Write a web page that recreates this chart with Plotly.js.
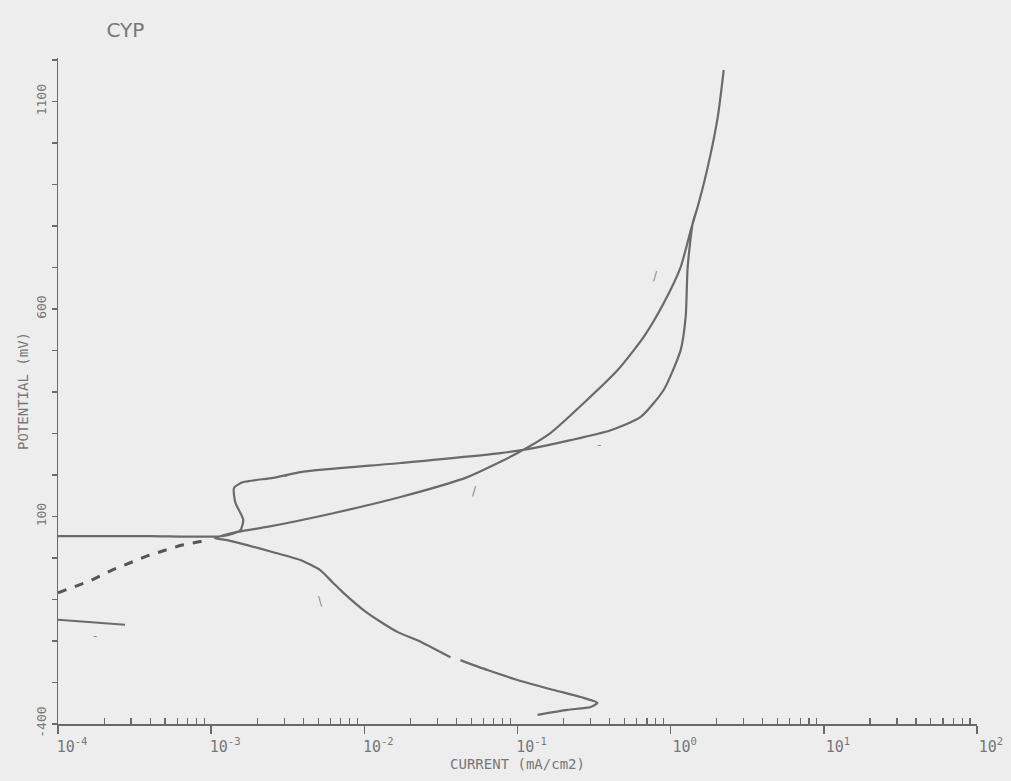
<!DOCTYPE html>
<html><head><meta charset="utf-8">
<script src="https://cdn.plot.ly/plotly-3.0.1.min.js"></script>
<style>html,body{margin:0;padding:0;background:#ededed;}</style>
</head><body><div id="chart" style="width:1011px;height:781px;"></div>
<script>
// Main scan: cathodic hook -> corrosion potential -> anodic up -> reverse scan back down
const mainCurrent = [0.135, 0.212, 0.300, 0.333, 0.258, 0.172, 0.100, 0.0637, 0.0424, null, 0.0365, 0.0222, 0.0164, 0.0105, 0.00730, 0.00626, 0.00515, 0.00382, 0.00254, 0.00172, 0.00127, 0.00106,
  0.00148, 0.00232, 0.00626, 0.0172, 0.0471, 0.100, 0.164, 0.270, 0.451, 0.667, 0.900, 1.162, 1.352, 1.50, 1.746, 2.03, 2.22,
  2.03, 1.746, 1.50, 1.393, 1.291, 1.253, 1.162, 0.900, 0.637, 0.406, 0.222, 0.127, 0.0775, 0.0172, 0.00382, 0.00254, 0.00162, 0.00141, 0.00144, 0.00162, 0.00155, 0.00120, 0.000399, 0.0001];
const mainPotential = [-378, -366, -359, -349, -335, -318, -294, -270, -246, null, -239, -198, -178, -133, -84, -60, -29, -5, 14, 31, 43, 48,
  63, 75, 108, 147, 195, 253, 301, 373, 453, 533, 614, 701, 790, 846, 942, 1063, 1176,
  1063, 942, 846, 807, 701, 581, 501, 405, 340, 308, 284, 265, 253, 229, 207, 193, 183, 169, 133, 92, 67, 53, 53, 53];
// dashed low-current branch
const dashCurrent = [0.0001, 0.000162, 0.000229, 0.000382, 0.000626, 0.000942];
const dashPotential = [-84, -55, -28, 5, 30, 43];
// short starting segment
const startCurrent = [0.0001, 0.000274];
const startPotential = [-149, -161];
// small hand marks along the curves (log10 current, potential)
const markLogCurrent = [-0.046, -0.418, -1.229, -2.464, -2.235, -3.706];
const markPotential = [699, 292, 181, 217, -84, -169];
const markText = ["/", "-", "/", "-", "\\", "-"];
// axis ticks
const xTickVals = [1e-4, 1e-3, 1e-2, 1e-1, 1e0, 1e1, 1e2];
const xTickText = ["10<sup>-4</sup>", "10<sup>-3</sup>", "10<sup>-2</sup>", "10<sup>-1</sup>", "10<sup>0</sup>", "10<sup>1</sup>", "10<sup>2</sup>"];
const yTickVals = [-400, 100, 600, 1100];
const yTickText = ["-400", "100", "600", "1100"];

const ink = '#6a6a6a';
const minorX = [];
for (let e = -4; e < 2; e++) for (let d = 2; d <= 9; d++) minorX.push(d * Math.pow(10, e));

const traces = [
  {x: mainCurrent, y: mainPotential, mode: 'lines', line: {color: ink, width: 2.2, shape: 'spline', smoothing: 0.6}, connectgaps: false, hoverinfo: 'skip'},
  {x: dashCurrent, y: dashPotential, mode: 'lines', line: {color: '#555', width: 3, dash: 'dash'}, hoverinfo: 'skip'},
  {x: startCurrent, y: startPotential, mode: 'lines', line: {color: ink, width: 2}, hoverinfo: 'skip'}
];

const annotations = markLogCurrent.map((lx, i) => ({
  x: lx, y: markPotential[i], xref: 'x', yref: 'y', text: markText[i], showarrow: false,
  font: {family: 'DejaVu Sans', size: 12, color: '#888'}, xshift: -8, yshift: -8
}));

const layout = {
  width: 1011, height: 781,
  paper_bgcolor: '#ededed', plot_bgcolor: '#ededed',
  margin: {l: 58, r: 34, t: 58, b: 57},
  showlegend: false,
  title: {text: 'CYP', x: 0.124, xref: 'container', xanchor: 'center', y: 0.962, yref: 'container', yanchor: 'middle',
    font: {family: 'DejaVu Sans', size: 20, color: '#777'}},
  xaxis: {
    type: 'log', range: [-4, 2], showgrid: false, zeroline: false,
    showline: true, linecolor: ink, linewidth: 1.5,
    tickvals: xTickVals, ticktext: xTickText, ticks: 'outside', ticklen: 8, tickcolor: ink, tickwidth: 1.5,
    ticklabelshift: 14,
    tickfont: {family: 'DejaVu Sans Mono', size: 15, color: '#777'},
    minor: {tickvals: minorX, ticks: 'inside', ticklen: 6, tickcolor: ink, tickwidth: 1.2},
    title: {text: 'CURRENT (mA/cm2)', standoff: 4, font: {family: 'DejaVu Sans Mono', size: 14, color: '#777'}}
  },
  yaxis: {
    range: [-400, 1205], showgrid: false, zeroline: false,
    showline: true, linecolor: ink, linewidth: 1.5,
    tickvals: yTickVals, ticktext: yTickText, ticks: 'outside', ticklen: 5, tickcolor: ink, tickwidth: 1.5,
    tickangle: -90,
    tickfont: {family: 'DejaVu Sans Mono', size: 13, color: '#777'},
    minor: {dtick: 100, tick0: -400, ticks: 'outside', ticklen: 5, tickcolor: ink, tickwidth: 1.2},
    title: {text: 'POTENTIAL (mV)', standoff: 2, font: {family: 'DejaVu Sans Mono', size: 14, color: '#777'}}
  },
  annotations: annotations
};

Plotly.newPlot('chart', traces, layout, {displayModeBar: false, staticPlot: true});
</script>
</body></html>
